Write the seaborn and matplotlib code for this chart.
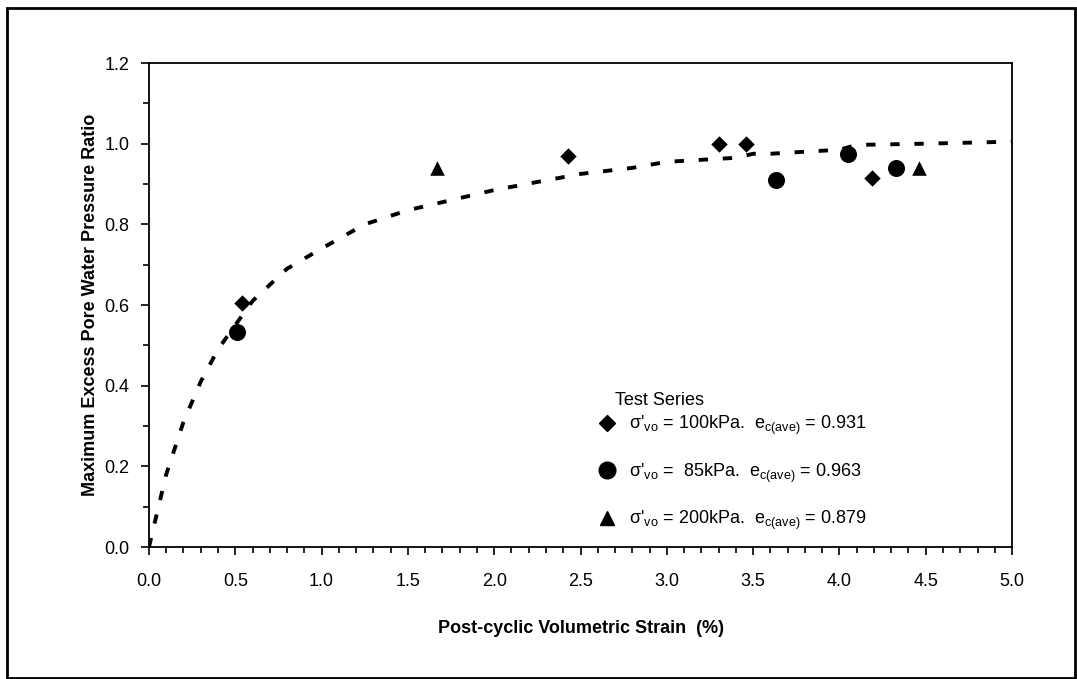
import pandas as pd
import matplotlib
matplotlib.use("Agg")
import matplotlib.pyplot as plt
import seaborn as sns
from matplotlib.lines import Line2D
from matplotlib.patches import Rectangle

# Test points
series_100_x = [0.54, 2.43, 3.30, 3.46, 4.19]
series_100_y = [0.605, 0.970, 1.000, 1.000, 0.915]
series_85_x = [0.51, 3.63, 4.05, 4.33]
series_85_y = [0.534, 0.910, 0.975, 0.940]
series_200_x = [1.67, 4.46]
series_200_y = [0.940, 0.940]

# Dashed trend line
trend_x = [0.0, 0.1, 0.2, 0.3, 0.4, 0.5, 0.6, 0.8, 1.0, 1.25, 1.5, 2.0, 2.5, 2.8, 3.0, 3.4, 3.5, 3.6, 4.0, 4.1, 4.5, 5.0]
trend_y = [0.0, 0.18, 0.31, 0.41, 0.49, 0.55, 0.61, 0.69, 0.74, 0.80, 0.835, 0.885, 0.925, 0.94, 0.955, 0.965, 0.975, 0.975, 0.985, 0.997, 1.0, 1.005]

labels = {
    "100": "σ'$_{\\mathrm{vo}}$ = 100kPa.  e$_{\\mathrm{c(ave)}}$ = 0.931",
    "85": "σ'$_{\\mathrm{vo}}$ =  85kPa.  e$_{\\mathrm{c(ave)}}$ = 0.963",
    "200": "σ'$_{\\mathrm{vo}}$ = 200kPa.  e$_{\\mathrm{c(ave)}}$ = 0.879",
}
markers = {"100": "D", "85": "o", "200": "^"}
sizes = {"100": 70, "85": 150, "200": 110}

df = pd.concat([
    pd.DataFrame({"strain": series_100_x, "ratio": series_100_y, "series": "100"}),
    pd.DataFrame({"strain": series_85_x, "ratio": series_85_y, "series": "85"}),
    pd.DataFrame({"strain": series_200_x, "ratio": series_200_y, "series": "200"}),
], ignore_index=True)
trend = pd.DataFrame({"strain": trend_x, "ratio": trend_y})

sns.set_style("ticks", {"text.color": "black", "axes.labelcolor": "black",
                        "xtick.color": "black", "ytick.color": "black"})
fam = ["Liberation Sans Narrow", "Liberation Sans", "DejaVu Sans"]
plt.rcParams["font.family"] = fam
plt.rcParams["mathtext.fontset"] = "custom"
plt.rcParams["mathtext.rm"] = "Liberation Sans"
plt.rcParams["mathtext.it"] = "Liberation Sans"

fig = plt.figure(figsize=(10.77, 6.79), dpi=100)
ax = fig.add_axes([0.1383, 0.1944, 0.8014, 0.7128])

sns.lineplot(data=trend, x="strain", y="ratio", ax=ax, color="black",
             linewidth=2.8, linestyle=(0, (2.4, 3.8)), sort=False)

for key in ["100", "85", "200"]:
    sub = df[df["series"] == key]
    sns.scatterplot(data=sub, x="strain", y="ratio", ax=ax, marker=markers[key],
                    s=sizes[key], color="black", edgecolor="black", linewidth=0)

ax.set_xlim(0, 5)
ax.set_ylim(0, 1.2)
ax.set_xticks([0, 0.5, 1, 1.5, 2, 2.5, 3, 3.5, 4, 4.5, 5])
ax.set_xticks([i / 10 for i in range(51)], minor=True)
ax.set_yticks([0, 0.2, 0.4, 0.6, 0.8, 1.0, 1.2])
ax.set_yticks([i / 10 for i in range(13)], minor=True)
ax.xaxis.set_major_formatter(matplotlib.ticker.FormatStrFormatter("%.1f"))
ax.yaxis.set_major_formatter(matplotlib.ticker.FormatStrFormatter("%.1f"))
ax.tick_params(which="major", direction="out", length=6, width=1.2, labelsize=13,
               colors="black", labelcolor="black")
ax.tick_params(axis="x", which="major", pad=13)
ax.tick_params(axis="y", which="major", pad=8)
ax.tick_params(which="minor", direction="out", length=4, width=1.2, colors="black")
for s in ax.spines.values():
    s.set_linewidth(1.3)
    s.set_color("black")

ax.set_xlabel("Post-cyclic Volumetric Strain  (%)", fontsize=13, fontweight="bold",
              labelpad=21, color="black")
ax.set_ylabel("Maximum Excess Pore Water Pressure Ratio", fontsize=13, fontweight="bold",
              labelpad=4, color="black")

handles = [Line2D([], [], marker=markers[k], color="black", linestyle="none",
                  markersize={"100": 8, "85": 12, "200": 10}[k]) for k in ["100", "85", "200"]]
ax.legend(handles, [labels[k] for k in ["100", "85", "200"]],
          loc="center left", bbox_to_anchor=(0.51, 0.153), frameon=False,
          fontsize=13, labelspacing=1.35, handletextpad=0.6,
          handlelength=1.2, borderaxespad=0, labelcolor="black")
ax.text(0.592, 0.302, "Test Series", transform=ax.transAxes, ha="center", va="center",
        fontsize=13, color="black")

fig.patches.append(Rectangle((7 / 1077, 1 / 679), 1068 / 1077, 670 / 679, transform=fig.transFigure,
                             fill=False, edgecolor="black", linewidth=2))

fig.savefig("out.png", dpi=100)
